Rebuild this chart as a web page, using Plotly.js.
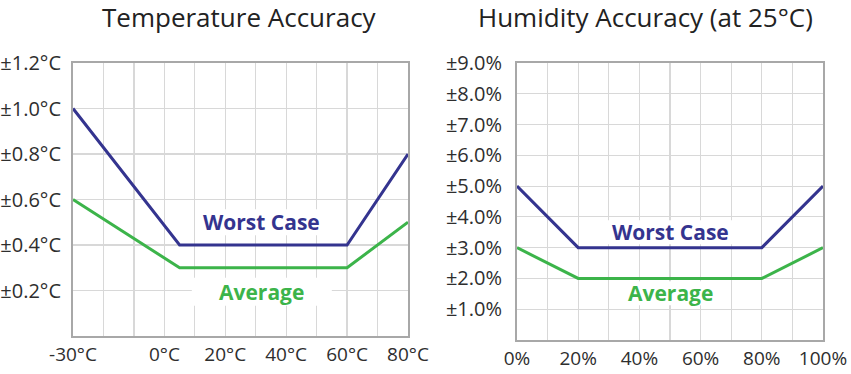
<!DOCTYPE html>
<html>
<head>
<meta charset="utf-8">
<script src="https://cdn.plot.ly/plotly-3.0.1.min.js"></script>
<style>html,body{margin:0;padding:0;background:#fff;}#chart{width:851px;height:374px;}</style>
</head>
<body>
<div id="chart"></div>
<script>
// Temperature chart data
const tempX = [-30, 5, 60, 80];
const tempWorst = [1.0, 0.4, 0.4, 0.8];
const tempAvg = [0.6, 0.3, 0.3, 0.5];
const tempXTickVals = [-30, -20, -10, 0, 10, 20, 30, 40, 50, 60, 70, 80];
const tempXTickText = ['-30°C', '', '', '0°C', '', '20°C', '', '40°C', '', '60°C', '', '80°C'];
const tempYTickVals = [0, 0.2, 0.4, 0.6, 0.8, 1.0, 1.2];
const tempYTickText = ['', '±0.2°C', '±0.4°C', '±0.6°C', '±0.8°C', '±1.0°C', '±1.2°C'];

// Humidity chart data
const humX = [0, 20, 80, 100];
const humWorst = [5.0, 3.0, 3.0, 5.0];
const humAvg = [3.0, 2.0, 2.0, 3.0];
const humXTickVals = [0, 10, 20, 30, 40, 50, 60, 70, 80, 90, 100];
const humXTickText = ['0%', '', '20%', '', '40%', '', '60%', '', '80%', '', '100%'];
const humYTickVals = [0, 1, 2, 3, 4, 5, 6, 7, 8, 9];
const humYTickText = ['', '±1.0%', '±2.0%', '±3.0%', '±4.0%', '±5.0%', '±6.0%', '±7.0%', '±8.0%', '±9.0%'];

// Label positions (data units)
const tempWorstLabel = {x: 32, y: 0.5};
const tempAvgLabel = {x: 32, y: 0.195};
const humWorstLabel = {x: 50, y: 3.5};
const humAvgLabel = {x: 50, y: 1.52};

const worstColor = '#34348f';
const avgColor = '#3cb44a';
const FONT = 'Open Sans, sans-serif';

const traces = [
  {x: tempX, y: tempWorst, xaxis: 'x', yaxis: 'y', mode: 'lines', line: {color: worstColor, width: 3}, hoverinfo: 'skip'},
  {x: tempX, y: tempAvg, xaxis: 'x', yaxis: 'y', mode: 'lines', line: {color: avgColor, width: 3}, hoverinfo: 'skip'},
  {x: humX, y: humWorst, xaxis: 'x2', yaxis: 'y2', mode: 'lines', line: {color: worstColor, width: 3}, hoverinfo: 'skip'},
  {x: humX, y: humAvg, xaxis: 'x2', yaxis: 'y2', mode: 'lines', line: {color: avgColor, width: 3}, hoverinfo: 'skip'}
];

const axCommon = {
  showgrid: true, gridcolor: '#d8d8d8', gridwidth: 1.2,
  showline: true, mirror: true, linecolor: '#a8a8a8', linewidth: 2,
  zeroline: false, ticks: '', tickmode: 'array',
  fixedrange: true
};
const xFont = {family: FONT, size: 19, color: '#2e2e2e'};
const yFont = {family: FONT, size: 20, color: '#2e2e2e'};

function bgBox(xref, yref, pos, hw, hh) {
  return {type: 'rect', layer: 'between', xref: xref, yref: yref,
    xsizemode: 'pixel', ysizemode: 'pixel', xanchor: pos.x, yanchor: pos.y,
    x0: -hw, x1: hw, y0: -hh, y1: hh, fillcolor: '#fff', line: {width: 0}};
}

const layout = {
  width: 851, height: 374,
  margin: {l: 0, r: 0, t: 0, b: 0},
  paper_bgcolor: '#fff', plot_bgcolor: '#fff',
  showlegend: false,
  xaxis: Object.assign({}, axCommon, {domain: [73/851, 408/851], range: [-30, 80], tickvals: tempXTickVals, ticktext: tempXTickText, anchor: 'y', ticklabelstandoff: 0, tickfont: xFont}),
  yaxis: Object.assign({}, axCommon, {domain: [1-336/374, 1-63/374], range: [0, 1.2], tickvals: tempYTickVals, ticktext: tempYTickText, anchor: 'x', ticklabelstandoff: 6, tickfont: yFont}),
  xaxis2: Object.assign({}, axCommon, {domain: [517/851, 823/851], range: [0, 100], tickvals: humXTickVals, ticktext: humXTickText, anchor: 'y2', ticklabelstandoff: 0, tickfont: xFont}),
  yaxis2: Object.assign({}, axCommon, {domain: [1-340/374, 1-63/374], range: [0, 9], tickvals: humYTickVals, ticktext: humYTickText, anchor: 'x2', ticklabelstandoff: 9, tickfont: yFont}),
  shapes: [
    bgBox('x', 'y', tempWorstLabel, 64, 13),
    bgBox('x', 'y', tempAvgLabel, 70, 14),
    bgBox('x2', 'y2', humWorstLabel, 64, 12),
    bgBox('x2', 'y2', humAvgLabel, 52, 12)
  ],
  annotations: [
    {text: 'Temperature Accuracy', xref: 'paper', yref: 'paper', x: 239/851, y: 1-17/374, showarrow: false, xanchor: 'center', yanchor: 'middle', font: {family: FONT, size: 26, color: '#222'}},
    {text: 'Humidity Accuracy (at 25°C)', xref: 'paper', yref: 'paper', x: 645/851, y: 1-17/374, showarrow: false, xanchor: 'center', yanchor: 'middle', font: {family: FONT, size: 26, color: '#222'}},
    {text: '<b>Worst Case</b>', xref: 'x', yref: 'y', x: tempWorstLabel.x, y: tempWorstLabel.y, showarrow: false, font: {family: FONT, size: 21, color: worstColor}},
    {text: '<b>Average</b>', xref: 'x', yref: 'y', x: tempAvgLabel.x, y: tempAvgLabel.y, showarrow: false, font: {family: FONT, size: 21, color: avgColor}},
    {text: '<b>Worst Case</b>', xref: 'x2', yref: 'y2', x: humWorstLabel.x, y: humWorstLabel.y, showarrow: false, font: {family: FONT, size: 21, color: worstColor}},
    {text: '<b>Average</b>', xref: 'x2', yref: 'y2', x: humAvgLabel.x, y: humAvgLabel.y, showarrow: false, font: {family: FONT, size: 21, color: avgColor}}
  ]
};

Plotly.newPlot('chart', traces, layout, {displayModeBar: false, staticPlot: true});
</script>
</body>
</html>
